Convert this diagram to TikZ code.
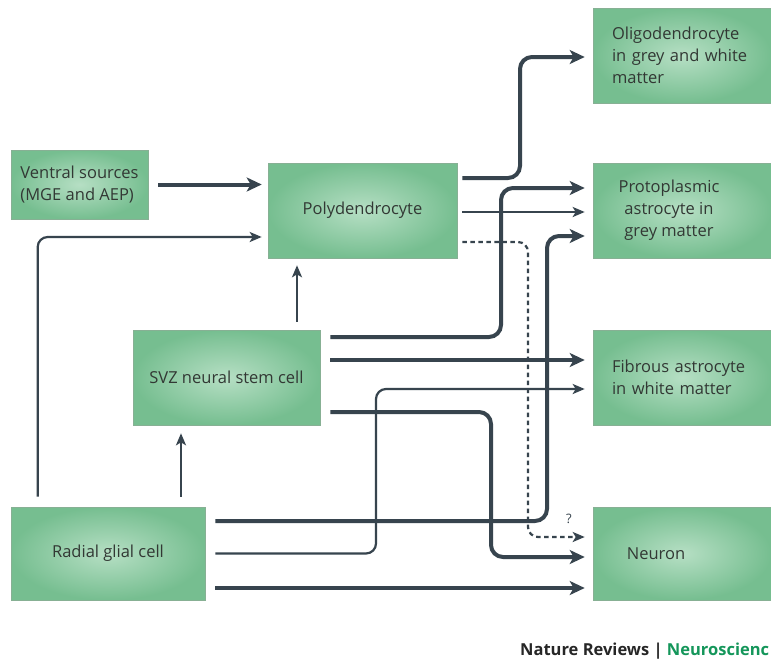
\documentclass[tikz,border=0pt]{standalone}
\usepackage{fontspec}
\setmainfont{Open Sans}
\usetikzlibrary{arrows.meta,calc}
\definecolor{boxin}{RGB}{182,223,196}
\definecolor{boxout}{RGB}{118,190,144}
\definecolor{boxline}{RGB}{135,176,148}
\definecolor{arr}{RGB}{55,68,78}
\definecolor{txt}{RGB}{50,56,52}
\definecolor{nrgreen}{RGB}{20,150,90}
\begin{document}
\begin{tikzpicture}[x=1pt,y=-1pt,
  cell/.style={rectangle, draw=boxline, line width=0.6pt, inner color=boxin, outer color=boxout,
    inner sep=0pt, text=txt, font=\fontsize{16.5}{22}\selectfont},
  thk/.style={draw=arr, line width=4pt, rounded corners=12pt, -{Stealth[length=15pt,width=14pt,inset=4pt]}},
  thn/.style={draw=arr, line width=2.2pt, rounded corners=10pt, -{Stealth[length=12pt,width=10pt,inset=3pt]}},
  dsh/.style={thn, dash pattern=on 4.5pt off 3.5pt}]
\fill[white, use as bounding box] (0,0) rectangle (771,659);

\node[cell, minimum width=137pt, minimum height=69pt, align=left] (ventral) at (79.5,184.5) {Ventral sources\\(MGE and AEP)};
\node[cell, minimum width=189pt, minimum height=95pt] (poly) at (362.5,210.5) {Polydendrocyte};
\node[cell, minimum width=178pt, minimum height=95pt, align=left, text width=140pt] (oligo) at (682,55.5) {Oligodendrocyte\\in grey and white\\matter};
\node[cell, minimum width=178pt, minimum height=95pt] (proto) at (682,210.5) {\begin{tabular}{@{}c@{}}Protoplasmic\\astrocyte in\\grey matter\end{tabular}\hspace*{26pt}};
\node[cell, minimum width=187pt, minimum height=95pt] (svz) at (226.5,377.5) {SVZ neural stem cell};
\node[cell, minimum width=178pt, minimum height=95pt, align=left, text width=140pt] (fibrous) at (682,377.5) {Fibrous astrocyte\\in white matter};
\node[cell, minimum width=194pt, minimum height=93pt] (radial) at (108,553.5) {Radial glial cell};
\node[cell, minimum width=178pt, minimum height=93pt] (neuron) at (682,553.5) {Neuron\hspace*{52pt}};

\node[text=arr, font=\fontsize{13}{14}\selectfont, inner sep=0pt] (q) at (569,519) {?};
\node[anchor=base west, inner sep=0pt, font=\fontsize{16.5}{19}\selectfont\bfseries, text=black!85] (credit) at (520,655) {Nature Reviews | \textcolor{nrgreen}{Neuroscienc}};

% connectors
\draw[thk] ($(ventral.east)+(10,0)$) -- ($(poly.west)+(-6,-26)$);
\draw[thn] ($(radial.north west)+(27,-10)$) |- ($(poly.west)+(-6,26.5)$);
\draw[thn] ($(radial.north)+(73,-10)$) -- ($(svz.south)+(-45.5,8)$);
\draw[thn] ($(svz.north)+(70.5,-8)$) -- ($(poly.south)+(-65.5,7)$);
\draw[thk] ($(poly.east)+(5,-32.5)$) -- (520,178) -- (520,57) -- ($(oligo.west)+(-8,1.5)$);
\draw[thn] ($(poly.east)+(5,1.5)$) -- ($(proto.west)+(-8,1.5)$);
\draw[dsh] ($(poly.east)+(5,31.5)$) -- (528,242) -- (528,537) -- ($(neuron.west)+(-8,-16.5)$);
\draw[thk] ($(svz.east)+(10,-40.5)$) -- (501,337) -- (501,188) -- ($(proto.west)+(-8,-22.5)$);
\draw[thk] ($(svz.east)+(10,-17.5)$) -- ($(fibrous.west)+(-8,-17.5)$);
\draw[thn] ($(radial.east)+(10,0)$) -- (376,553.5) -- (376,389) -- ($(fibrous.west)+(-8,11.5)$);
\draw[thk] ($(svz.east)+(10,34.5)$) -- (491,412) -- (491,557) -- ($(neuron.west)+(-8,3.5)$);
\draw[thk] ($(radial.east)+(10,-32.5)$) -- (547,521) -- (547,236) -- ($(proto.west)+(-8,25.5)$);
\draw[thk] ($(radial.east)+(10,34.5)$) -- ($(neuron.west)+(-8,34.5)$);
\end{tikzpicture}
\end{document}
